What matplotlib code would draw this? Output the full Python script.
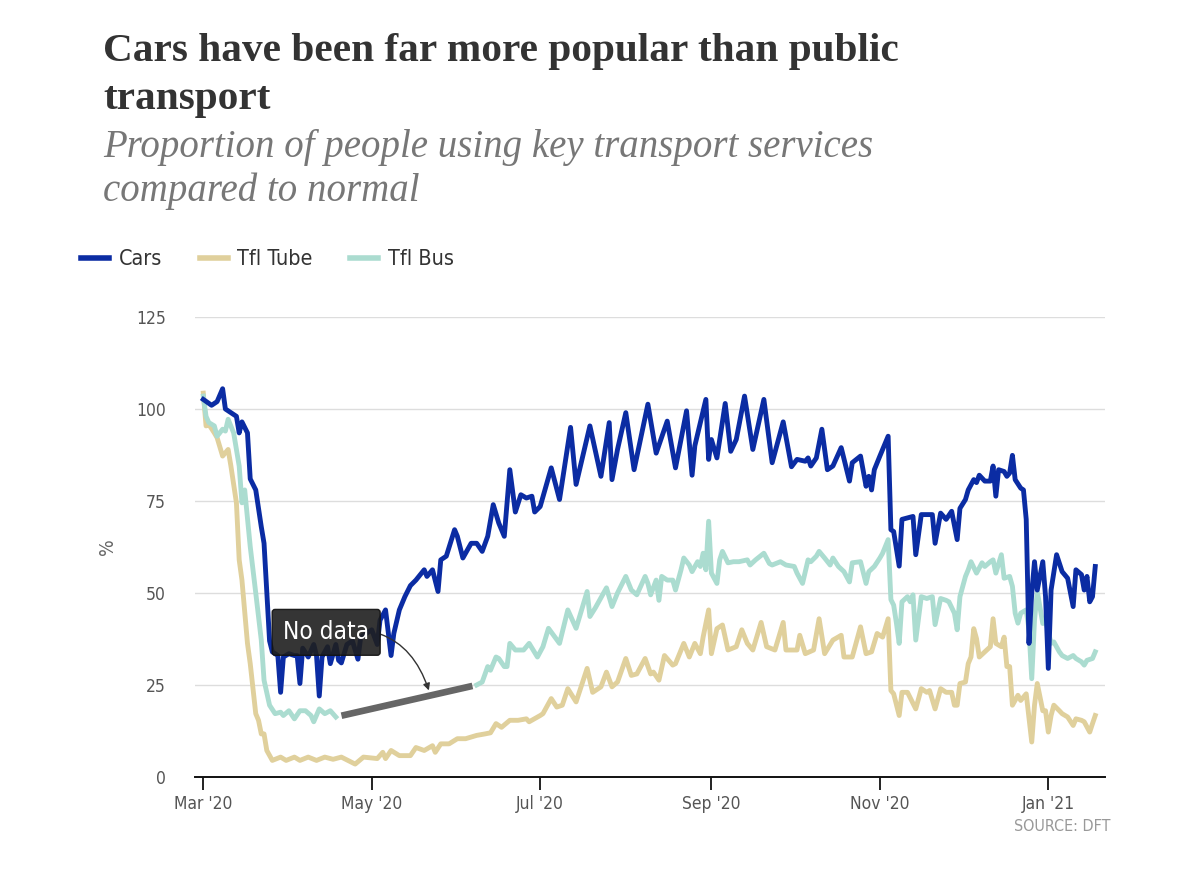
import matplotlib
matplotlib.use("Agg")
import matplotlib.pyplot as plt
import matplotlib.dates as mdates
from matplotlib import font_manager
from matplotlib.lines import Line2D
import pandas as pd

# Data: day offset from 1 Mar 2020, % of normal
start = pd.Timestamp("2020-03-01")

car_day = [0, 3, 5, 7, 8, 10, 12, 13, 14, 16, 17, 19, 21, 22, 24, 25, 27, 28, 29, 31,
           33, 34, 35, 36, 38, 40, 41, 42, 43, 45, 46, 48, 49, 50, 52, 54, 56, 57, 59, 61,
           63, 64, 66, 68, 69, 71, 73, 75, 77, 80, 81, 83, 85, 86, 88, 91, 92, 94, 97, 99,
           101, 103, 105, 107, 109, 111, 113, 115, 117, 119, 120, 122, 126, 129, 133, 135, 140, 144, 147, 148,
           150, 153, 156, 161, 164, 168, 171, 175, 177, 178, 182, 183, 184, 186, 189, 191, 193, 196, 199, 203,
           206, 210, 213, 215, 218, 219, 220, 222, 224, 226, 228, 231, 234, 235, 238, 240, 241, 242, 243, 245,
           248, 249, 250, 252, 253, 255, 257, 258, 260, 262, 264, 265, 267, 269, 271, 273, 274, 276, 277, 279,
           280, 281, 283, 285, 286, 287, 288, 290, 291, 292, 293, 294, 296, 297, 298, 299, 300, 301, 302, 304,
           305, 306, 307, 309, 311, 313, 315, 316, 318, 319, 320, 321, 322, 323]
car_pct = [102.6, 101, 102, 105.5, 100, 99, 98, 93.5, 96.5, 93.5, 81, 78, 68, 63.5, 37, 34, 33, 23, 32.6, 33.5,
           33, 33, 25.4, 35, 32.6, 36, 33, 22, 32.6, 35.4, 30.8, 36, 31.7, 31, 36, 37, 32, 38, 39, 40,
           36, 42.6, 45.4, 33, 39, 45.4, 49, 52, 53.5, 56.3, 54.5, 56.3, 50.4, 59, 60, 67.2, 65.4, 59.5, 63.5, 63.5,
           61.3, 65.4, 74, 69, 65.4, 83.5, 72, 76.7, 75.8, 76.3, 72, 73.5, 84, 75.4, 95, 79.5, 95.4, 81.7, 96.3, 80.8,
           89, 99, 83.5, 101.3, 88, 96.7, 84, 99.5, 82, 90, 102.6, 86.3, 91.7, 86.7, 101.5, 88.5, 91.7, 103.5, 89, 102.6,
           85.4, 96.5, 84.3, 86.3, 85.8, 86.7, 84.5, 86.7, 94.5, 83.5, 84.5, 89.5, 80.4, 85.4, 87.2, 79, 81.7, 78, 83.5, 87.2,
           92.6, 67.2, 66.7, 57.3, 70, 70.4, 70.8, 60.4, 71.3, 71.3, 71.3, 63.5, 71.7, 70, 72.2, 64.5, 73, 75.4, 78, 80.8,
           80, 82, 80.4, 80.4, 84.5, 76.3, 83.5, 83, 81.7, 82.6, 87.4, 80.8, 78.5, 78, 70, 36.3, 50, 58.5, 50.8, 58.5,
           49, 29.5, 50.8, 60.4, 55.8, 54, 46.3, 56.3, 55, 50.8, 54.5, 47.6, 49, 57.2]

tube_day = [0, 1, 2, 4, 5, 7, 9, 10, 12, 13, 14, 16, 17, 19, 20, 21, 22, 23, 25, 28,
            30, 33, 35, 38, 41, 44, 47, 50, 55, 58, 63, 65, 66, 68, 71, 75, 77, 80, 83, 84,
            86, 89, 92, 95, 99, 102, 104, 106, 108, 111, 114, 117, 118, 122, 123, 126, 128, 130, 132, 135,
            139, 141, 144, 146, 148, 150, 153, 155, 157, 160, 162, 163, 165, 167, 170, 171, 174, 176, 178, 180,
            181, 183, 184, 186, 188, 190, 193, 195, 197, 199, 202, 204, 207, 210, 211, 215, 216, 218, 221, 223,
            225, 228, 231, 232, 235, 238, 240, 242, 244, 246, 248, 249, 250, 252, 253, 255, 258, 260, 262, 263,
            265, 267, 269, 271, 272, 273, 274, 276, 277, 278, 279, 280, 281, 283, 285, 286, 287, 289, 290, 291,
            292, 293, 295, 296, 298, 300, 301, 302, 304, 305, 306, 307, 308, 310, 311, 313, 315, 316, 318, 319,
            321, 322, 323]
tube_pct = [104.3, 95.4, 95.8, 93.5, 92.2, 87.2, 89, 84.5, 74.5, 59, 53.5, 36.3, 30.8, 17.2, 15.4, 11.7, 11.7, 7.2, 4.5, 5.4,
            4.5, 5.4, 4.5, 5.4, 4.5, 5.4, 4.8, 5.4, 3.5, 5.4, 5, 6.7, 5, 7.2, 5.8, 5.8, 8, 7.2, 8.5, 6.7,
            9, 9, 10.4, 10.4, 11.3, 11.7, 12, 14.5, 13.5, 15.4, 15.4, 15.8, 15, 16.7, 17.2, 21.3, 19, 19.5, 24, 20.4,
            29.5, 23, 24.5, 28.5, 24.5, 25.8, 32.2, 27.6, 28, 32.2, 28, 28.5, 26.3, 33, 30.4, 30.8, 36.3, 32.6, 36.3, 33.5,
            38, 45.4, 33.5, 40.3, 41.3, 34.5, 35.4, 40, 36.3, 34.5, 42, 35.4, 34.5, 42, 34.5, 34.5, 38.5, 33.5, 34.5, 43,
            33.5, 37.2, 38.5, 32.6, 32.6, 40.8, 33.5, 34, 39, 38, 43, 23.5, 22.6, 16.7, 23, 23, 18.5, 24, 23, 23.5,
            18.5, 24, 23, 23, 19.5, 19.5, 25.4, 25.8, 30.8, 32.6, 40.3, 37.6, 32.6, 34, 35.4, 43, 36.3, 35.4, 38, 30,
            30, 19.5, 22.2, 20.8, 22.6, 9.5, 19.5, 25.4, 18, 18, 12.2, 16.7, 19.5, 18, 17.2, 16.3, 14, 15.8, 15.4, 15,
            12.2, 14.5, 16.7]

# Bus has no data between mid April and the start of June
bus_day_a = [0, 1, 2, 4, 5, 7, 8, 9, 11, 13, 14, 15, 17, 19, 21, 22, 24, 26, 28, 29,
             31, 33, 35, 37, 39, 40, 42, 44, 46, 48]
bus_pct_a = [103.5, 98, 96.3, 95.4, 92.6, 94.5, 94, 97.2, 93.5, 84.5, 74.5, 78, 62.6, 50, 37.2, 26.3, 19.5, 17.2, 17.6, 16.7,
             18, 15.8, 18, 18, 16.7, 15, 18.5, 17.2, 18, 16.3]
bus_day_b = [99, 101, 103, 104, 106, 107, 109, 110, 111, 113, 116, 118, 121, 123, 125, 129, 132, 135, 139, 140,
             142, 146, 148, 150, 153, 155, 157, 160, 161, 162, 164, 165, 166, 168, 170, 171, 173, 174, 176, 177,
             179, 180, 181, 182, 183, 184, 186, 187, 188, 190, 192, 194, 197, 198, 200, 203, 205, 206, 209, 211,
             214, 215, 217, 219, 220, 222, 223, 225, 227, 228, 230, 232, 234, 235, 238, 240, 241, 243, 245, 246,
             248, 249, 250, 251, 252, 253, 255, 256, 257, 258, 260, 262, 264, 265, 267, 269, 270, 272, 273, 274,
             276, 277, 278, 280, 282, 283, 285, 286, 287, 289, 290, 292, 293, 294, 295, 296, 298, 299, 300, 301,
             302, 304, 305, 306, 307, 308, 310, 311, 313, 315, 316, 318, 319, 320, 322, 323]
bus_pct_b = [25, 25.8, 30, 29, 32.6, 32.2, 30, 30, 36.3, 34.5, 34.5, 36.3, 32.6, 35.4, 40.4, 36.3, 45.4, 40.4, 50.4, 43.6,
             46, 51.4, 46.3, 50, 54.5, 50.8, 49.5, 54.5, 52.6, 49.5, 53.5, 48, 54.5, 53.5, 53.5, 50.8, 56.3, 59.5, 57.6, 55.8,
             58.5, 57.2, 60.8, 56.3, 69.5, 55.4, 52.6, 59, 61.3, 58.2, 58.5, 58.5, 59, 57.6, 59, 60.8, 58, 57.6, 58.5, 57.6,
             57.2, 55.4, 52.6, 59, 58.5, 60, 61.3, 59.5, 57.6, 59.5, 57.2, 55.8, 53, 58.2, 58.5, 52.6, 55.8, 57.2, 59.5, 60.8,
             64.5, 48.2, 46.7, 41.8, 36.3, 47.6, 49, 47.6, 49.5, 37.2, 49, 48.5, 49, 41.4, 48.5, 48, 47.6, 44.5, 40, 49,
             54.5, 56.3, 58.5, 55.4, 58.2, 57.2, 58.5, 59, 55.4, 60.4, 54, 54.5, 51.8, 44.5, 41.8, 44.5, 45.4, 40, 26.7, 42.6,
             50.4, 41.7, 42.6, 39.5, 36.3, 36.7, 34, 33, 32.2, 33, 32.2, 31.3, 30.4, 31.7, 32.2, 34]

y_ticks = [0, 25, 50, 75, 100, 125]

def to_dates(days):
    return start + pd.to_timedelta(days, unit="D")

# pick a narrow sans for the labels if one is installed
installed = {(f.name, f.stretch) for f in font_manager.fontManager.ttflist}
names = {n for n, _ in installed}
if "Liberation Sans Narrow" in names:
    narrow = dict(family="Liberation Sans Narrow")
elif any(n == "DejaVu Sans" and s == "condensed" for n, s in installed):
    narrow = dict(family="DejaVu Sans", stretch="condensed")
else:
    narrow = dict(family="Roboto")

car_col = "#0b2ca3"
tube_col = "#e0d09c"
bus_col = "#abdcd0"

fig = plt.figure(figsize=(12, 8.73), dpi=100)
ax = fig.add_axes([0.1625, 0.110, 0.7585, 0.5269])

lw = 3.5
ax.plot(to_dates(tube_day), tube_pct, color=tube_col, lw=lw, solid_joinstyle="round", zorder=3)
ax.plot(to_dates(bus_day_a), bus_pct_a, color=bus_col, lw=lw, solid_joinstyle="round", zorder=4)
ax.plot(to_dates(bus_day_b), bus_pct_b, color=bus_col, lw=lw, solid_joinstyle="round", zorder=4)
ax.plot(to_dates(car_day), car_pct, color=car_col, lw=lw, solid_joinstyle="round", zorder=5)

# grey bridge across the missing bus data
g0, g1 = bus_day_a[-1], bus_day_b[0]
v0, v1 = bus_pct_a[-1], bus_pct_b[0]
f0, f1 = 0.04, 0.97
ax.plot(to_dates([g0 + (g1 - g0) * f0, g0 + (g1 - g0) * f1]),
        [v0 + (v1 - v0) * f0, v0 + (v1 - v0) * f1],
        color="#666666", lw=4.8, solid_capstyle="butt", zorder=6)

ax.annotate("No data", xy=(to_dates([82])[0], 22.8), xytext=(to_dates([44.5])[0], 39.3),
            ha="center", va="center", color="white", fontsize=17.5, **narrow,
            bbox=dict(boxstyle="round,pad=0.45,rounding_size=0.12", fc="#1f1f1f", ec="#111111",
                      alpha=0.9),
            arrowprops=dict(arrowstyle="-|>", color="#333333", lw=1,
                            connectionstyle="arc3,rad=-0.45", shrinkA=0, shrinkB=2,
                            mutation_scale=10),
            zorder=10)

ax.set_xlim(start - pd.Timedelta(days=3), start + pd.Timedelta(days=326.6))
ax.set_ylim(0, 125)
ax.set_yticks(y_ticks)
ax.xaxis.set_major_locator(mdates.MonthLocator(bymonth=[1, 3, 5, 7, 9, 11]))
ax.xaxis.set_major_formatter(mdates.DateFormatter("%b '%y"))

for s in ["top", "right", "left"]:
    ax.spines[s].set_visible(False)
ax.spines["bottom"].set_color("#111111")
ax.spines["bottom"].set_linewidth(1.4)
ax.spines["bottom"].set_zorder(2)
ax.grid(axis="y", color="#dddddd", lw=1)
ax.set_axisbelow(True)
ax.tick_params(axis="y", length=0, pad=21, labelsize=12.5, labelcolor="#555555")
ax.tick_params(axis="x", length=9, width=1.3, color="#111111", pad=4, labelsize=12.5, labelcolor="#555555")
for lab in ax.get_xticklabels() + ax.get_yticklabels():
    lab.set_family(narrow["family"])
    if "stretch" in narrow:
        lab.set_stretch(narrow["stretch"])
ax.set_ylabel("%", fontsize=14, color="#666666", labelpad=14, **narrow)

fig.text(0.086, 0.962, "Cars have been far more popular than public\ntransport",
         fontsize=29.7, fontweight="bold", family="Liberation Serif", color="#333333",
         va="top", ha="left", linespacing=1.37)
fig.text(0.086, 0.852, "Proportion of people using key transport services\ncompared to normal",
         fontsize=28, style="italic", family="Liberation Serif", color="#777777",
         va="top", ha="left", linespacing=1.23)

handles = [Line2D([], [], color=car_col, lw=4),
           Line2D([], [], color=tube_col, lw=4),
           Line2D([], [], color=bus_col, lw=4)]
leg = fig.legend(handles, ["Cars", "Tfl Tube", "Tfl Bus"], loc="center left",
                 bbox_to_anchor=(0.0675, 0.703), ncol=3, frameon=False, handlelength=1.3,
                 handletextpad=0.45, columnspacing=1.75, borderpad=0, borderaxespad=0,
                 prop=dict(size=15.5, **narrow))
for t in leg.get_texts():
    t.set_color("#333333")

fig.text(0.925, 0.048, "SOURCE: DFT", fontsize=11.5, color="#999999", ha="right", **narrow)

fig.savefig("out.png", dpi=100)
